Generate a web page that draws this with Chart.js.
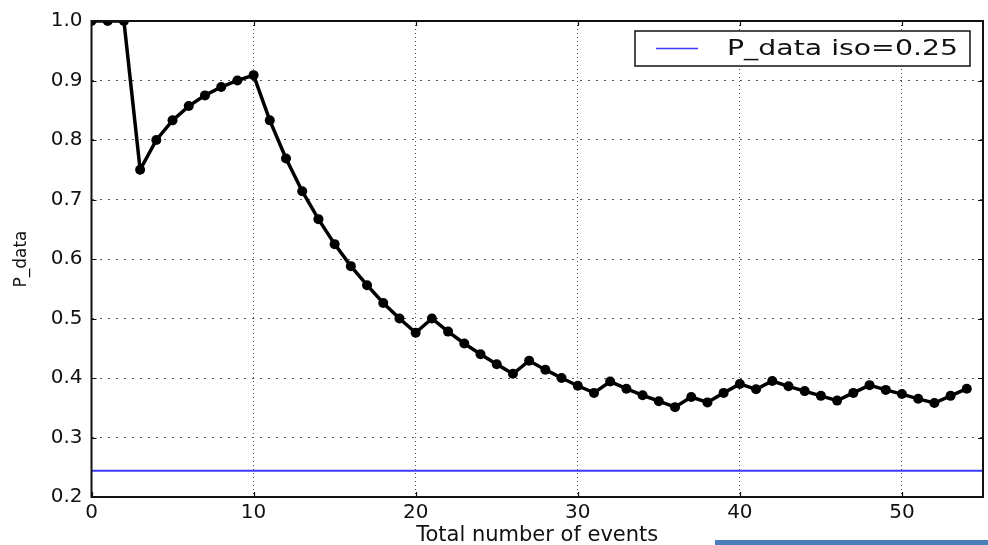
<!DOCTYPE html>
<html>
<head>
<meta charset="utf-8">
<script src="https://cdn.jsdelivr.net/npm/chart.js@4/dist/chart.umd.min.js"></script>
<style>
  body { margin: 0; background: #fff; }
  #wrap { position: relative; width: 988px; height: 545px; overflow: hidden; }
  #bar { position: absolute; left: 715px; top: 540px; width: 273px; height: 5px; background: #4a7ebb; }
</style>
</head>
<body>
<div id="wrap">
  <canvas id="chart" width="988" height="545"></canvas>
  <div id="bar"></div>
</div>
<script>
/* --------------- Data --------------------- */
const events = [0, 1, 2, 3, 4, 5, 6, 7, 8, 9, 10, 11, 12, 13, 14, 15, 16, 17, 18, 19,
  20, 21, 22, 23, 24, 25, 26, 27, 28, 29, 30, 31, 32, 33, 34, 35, 36, 37, 38, 39,
  40, 41, 42, 43, 44, 45, 46, 47, 48, 49, 50, 51, 52, 53, 54];
const pData = [1.0, 1.0, 1.0, 0.75, 0.8, 0.833, 0.857, 0.875, 0.889, 0.9,
  0.909, 0.833, 0.769, 0.714, 0.667, 0.625, 0.588, 0.556, 0.526, 0.5,
  0.476, 0.5, 0.478, 0.458, 0.44, 0.423, 0.407, 0.429, 0.414, 0.4,
  0.387, 0.375, 0.394, 0.382, 0.371, 0.361, 0.351, 0.368, 0.359, 0.375,
  0.39, 0.381, 0.395, 0.386, 0.378, 0.37, 0.362, 0.375, 0.388, 0.38,
  0.373, 0.365, 0.358, 0.37, 0.382];
const isoLabel = "P_data iso=0.25";
const isoValue = 0.244;
const xRange = [0, 55];
const yRange = [0.2, 1.0];

const FONT = '"DejaVu Sans", sans-serif';

/* --------------- Frame, inward ticks and boxed legend --------------------- */
const framePlugin = {
  id: "frame",
  afterDatasetsDraw(chart) {
    const { ctx, chartArea: a, scales: { x, y } } = chart;
    ctx.save();
    ctx.strokeStyle = "#111";
    ctx.lineWidth = 1.2;
    ctx.beginPath();
    x.ticks.forEach((t) => {
      const px = Math.round(x.getPixelForValue(t.value)) + 0.5;
      ctx.moveTo(px, a.top); ctx.lineTo(px, a.top + 5);
      ctx.moveTo(px, a.bottom); ctx.lineTo(px, a.bottom - 5);
    });
    y.ticks.forEach((t) => {
      const py = Math.round(y.getPixelForValue(t.value)) + 0.5;
      ctx.moveTo(a.left, py); ctx.lineTo(a.left + 5, py);
      ctx.moveTo(a.right, py); ctx.lineTo(a.right - 5, py);
    });
    ctx.stroke();
    ctx.lineWidth = 2;
    ctx.strokeRect(a.left, a.top, a.right - a.left, a.bottom - a.top);

    // legend (text is a bit wider than its height in the original)
    const ds = chart.data.datasets[1];
    const stretch = 1.35;
    ctx.font = "21px " + FONT;
    const tw = ctx.measureText(ds.label).width * stretch;
    const w = 92 + tw + 12;
    const h = 35;
    const bx = a.right - 13 - w;
    const by = a.top + 10;
    ctx.fillStyle = "#fff";
    ctx.fillRect(bx, by, w, h);
    ctx.lineWidth = 1.5;
    ctx.strokeStyle = "#111";
    ctx.strokeRect(bx, by, w, h);
    ctx.beginPath();
    ctx.strokeStyle = ds.borderColor;
    ctx.lineWidth = 1.5;
    ctx.moveTo(bx + 21, by + h / 2);
    ctx.lineTo(bx + 63, by + h / 2);
    ctx.stroke();
    ctx.fillStyle = "#111";
    ctx.textBaseline = "middle";
    ctx.translate(bx + 92, by + h / 2 + 1);
    ctx.scale(stretch, 1);
    ctx.fillText(ds.label, 0, 0);
    ctx.restore();
  },
};

/* --------------- Chart --------------------- */
const chart = new Chart(document.getElementById("chart"), {
  type: "line",
  plugins: [framePlugin],
  data: {
    datasets: [
      {
        data: events.map((e, i) => ({ x: e, y: pData[i] })),
        borderColor: "#000",
        backgroundColor: "#000",
        borderWidth: 3.5,
        pointRadius: 5,
        pointBorderWidth: 0,
        clip: 0,
      },
      {
        label: isoLabel,
        data: [{ x: xRange[0], y: isoValue }, { x: xRange[1], y: isoValue }],
        borderColor: "#3a3aff",
        borderWidth: 2,
        pointRadius: 0,
        clip: 0,
      },
    ],
  },
  options: {
    responsive: false,
    animation: false,
    layout: { padding: { left: 13, right: 5, top: 17, bottom: 0 } },
    plugins: { legend: { display: false }, tooltip: { enabled: false } },
    scales: {
      x: {
        type: "linear",
        min: xRange[0],
        max: xRange[1],
        afterFit: (s) => { s.height = 48; },
        ticks: {
          stepSize: 10,
          includeBounds: false,
          maxRotation: 0,
          padding: 4,
          color: "#111",
          font: { family: FONT, size: 20 },
        },
        grid: { color: "#555", lineWidth: 1, drawTicks: false },
        border: { display: false, dash: [1, 3] },
        title: {
          display: true,
          text: "Total number of events",
          color: "#111",
          padding: 0,
          font: { family: FONT, size: 21, lineHeight: 0.9 },
        },
      },
      y: {
        min: yRange[0],
        max: yRange[1],
        afterFit: (s) => { s.width = 78.5; },
        ticks: {
          stepSize: 0.1,
          padding: 9,
          color: "#111",
          font: { family: FONT, size: 20 },
          callback: (v) => v.toFixed(1),
        },
        grid: { color: "#555", lineWidth: 1, drawTicks: false },
        border: { display: false, dash: [2, 6] },
        title: {
          display: true,
          text: "P_data",
          color: "#111",
          padding: 0,
          font: { family: FONT, size: 17, lineHeight: 1.0 },
        },
      },
    },
  },
});
</script>
</body>
</html>
